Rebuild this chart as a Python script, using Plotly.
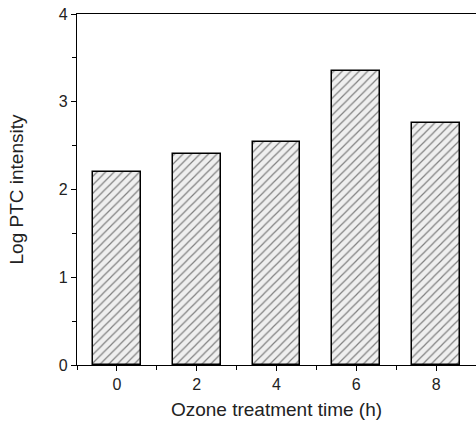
import plotly.graph_objects as go

times = [0, 2, 4, 6, 8]
log_ptc = [2.20, 2.40, 2.54, 3.35, 2.76]
x_ticks = [0, 2, 4, 6, 8]
y_ticks = [0, 1, 2, 3, 4]

fig = go.Figure()
fig.add_trace(go.Bar(
    x=times, y=log_ptc, width=1.2,
    marker=dict(color="white", line=dict(color="black", width=1.5),
                pattern=dict(shape="/", fgcolor="#111", bgcolor="#efefef", size=6, solidity=0.2)),
))

font = dict(family="Liberation Sans, Arial, sans-serif", size=16, color="#222")
fig.update_layout(
    width=476, height=427,
    margin=dict(l=77, r=0, t=14, b=62),
    paper_bgcolor="white", plot_bgcolor="white",
    showlegend=False, font=font, bargap=0,
)
fig.update_xaxes(
    range=[-1, 9], tickvals=x_ticks, ticktext=[str(v) for v in x_ticks],
    showgrid=False, zeroline=False, showline=True, linecolor="black", linewidth=1.3,
    mirror=True, ticks="outside", ticklen=5, tickcolor="black",
    minor=dict(dtick=1, tick0=1, ticks="outside", ticklen=4, tickcolor="black"),
    title=dict(text="Ozone treatment time (h)", standoff=10),
)
fig.update_yaxes(
    range=[0, 4], tickvals=y_ticks, showgrid=False, zeroline=False,
    showline=True, linecolor="black", linewidth=1.3,
    ticks="outside", ticklen=5, tickcolor="black",
    minor=dict(dtick=0.5, tick0=0, ticks="outside", ticklen=4, tickcolor="black"),
    title=dict(text="Log PTC intensity", standoff=30),
)
fig.write_html("out.html")
